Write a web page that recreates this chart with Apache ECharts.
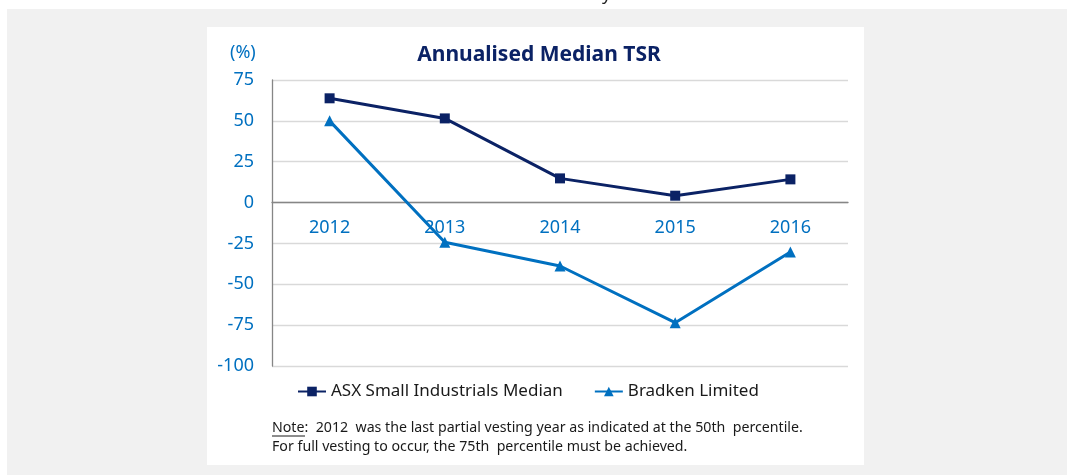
<!DOCTYPE html>
<html lang="en">
<head>
    <meta charset="UTF-8">
    <title>Annualised Median TSR</title>
    <script src="https://cdn.jsdelivr.net/npm/echarts@6/dist/echarts.min.js"></script>
    <style>
        html, body { margin: 0; padding: 0; background: #ffffff; }
        #tsrChart { width: 1067px; height: 475px; }
    </style>
</head>
<body>
<div id="tsrChart"></div>
<script>
    var years = ['2012', '2013', '2014', '2015', '2016'];
    var asxMedian = [63.8, 51.5, 14.8, 4.2, 14.2];
    var bradken = [50, -24.3, -38.8, -73.5, -30.2];
    var yTicks = { min: -100, max: 75, step: 25 };

    var font = '"Noto Sans", "Open Sans", sans-serif';
    // grid box, the category axis is pulled up onto the zero line
    var gridTop = 80, gridBottom = 109, gridHeight = 475 - gridTop - gridBottom;
    var zeroShift = gridHeight * (0 - yTicks.min) / (yTicks.max - yTicks.min);

    var tsrChart = echarts.init(document.getElementById('tsrChart'));
    var option = {
        backgroundColor: '#ffffff',
        animation: false,
        title: {
            text: 'Annualised Median TSR',
            left: 534,
            textAlign: 'center',
            top: 40,
            textStyle: { color: '#0b2265', fontSize: 21, fontWeight: 'bold', fontFamily: font }
        },
        graphic: [
            { type: 'rect', z: -10, shape: { x: 7, y: 9, width: 1060, height: 466 }, style: { fill: '#f1f1f1' } },
            { type: 'rect', z: -9, shape: { x: 207, y: 27, width: 657, height: 438 }, style: { fill: '#ffffff' } },
            { type: 'text', left: 602, top: -14, style: { text: 'y', fill: '#222222', font: '18px ' + font } },
            { type: 'text', left: 230, top: 44, style: { text: '(%)', fill: '#0070c0', font: '18px ' + font } },
            { type: 'text', left: 272, top: 418, style: {
                text: 'Note:  2012  was the last partial vesting year as indicated at the 50th  percentile.\nFor full vesting to occur, the 75th  percentile must be achieved.',
                fill: '#1a1a1a', font: '14.2px ' + font, lineHeight: 19 } },
            { type: 'line', shape: { x1: 272, y1: 436, x2: 305, y2: 436 }, style: { stroke: '#1a1a1a', lineWidth: 1 } }
        ],
        legend: {
            left: 292,
            top: 378,
            itemWidth: 28,
            itemHeight: 12,
            itemGap: 31,
            textStyle: { color: '#1a1a1a', fontSize: 17, fontFamily: font },
            data: ['ASX Small Industrials Median', 'Bradken Limited']
        },
        grid: { left: 272, right: 219, top: gridTop, bottom: gridBottom, containLabel: false },
        xAxis: {
            type: 'category',
            data: years,
            boundaryGap: true,
            offset: -zeroShift,
            axisLine: { onZero: false, lineStyle: { color: '#868686', width: 1.3 } },
            axisTick: { show: false },
            axisLabel: { color: '#0070c0', fontSize: 18, fontFamily: font, margin: 16 },
            splitLine: { show: false }
        },
        yAxis: {
            type: 'value',
            min: yTicks.min,
            max: yTicks.max,
            interval: yTicks.step,
            axisLine: { show: true, lineStyle: { color: '#868686', width: 1.3 } },
            axisTick: { show: false },
            axisLabel: { color: '#0070c0', fontSize: 18, fontFamily: font, margin: 18 },
            splitLine: { lineStyle: { color: '#d9d9d9', width: 1.3 } }
        },
        series: [
            {
                name: 'ASX Small Industrials Median',
                type: 'line',
                data: asxMedian,
                symbol: 'rect',
                symbolSize: 10,
                lineStyle: { color: '#0b2265', width: 3 },
                itemStyle: { color: '#0b2265' }
            },
            {
                name: 'Bradken Limited',
                type: 'line',
                data: bradken,
                symbol: 'triangle',
                symbolSize: 11,
                lineStyle: { color: '#0070c0', width: 3 },
                itemStyle: { color: '#0070c0' }
            }
        ]
    };
    tsrChart.setOption(option);
</script>
</body>
</html>
